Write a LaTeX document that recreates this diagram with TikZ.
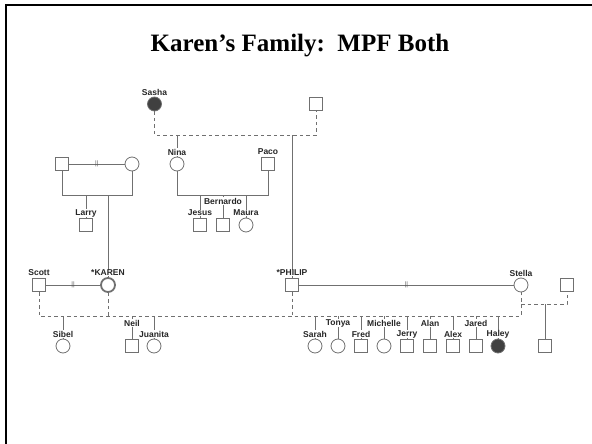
\documentclass[tikz,border=0pt]{standalone}
\usepackage{fontspec}
\usepackage{xcolor}
\setmainfont{Liberation Serif}
\newfontfamily\labelfont{Liberation Sans}
\definecolor{pedgray}{HTML}{707070}
\definecolor{pedfill}{HTML}{404040}
\tikzstyle{male} = [rectangle, minimum size=13.5pt, inner sep=0pt, draw=pedgray, line width=0.8pt, fill=white]
\tikzstyle{female} = [circle, minimum size=14pt, inner sep=0pt, draw=pedgray, line width=0.8pt, fill=white]
\tikzstyle{affected} = [fill=pedfill]
\tikzstyle{proband} = [line width=1.8pt]
\tikzstyle{tag} = [font=\labelfont\bfseries\fontsize{8.5}{9}\selectfont, text=black!85, inner sep=0.5pt, fill=white]
\tikzstyle{link} = [draw=pedgray, line width=0.8pt]
\tikzstyle{dashlink} = [link, dash pattern=on 3.5pt off 3pt]
\tikzstyle{divorce} = [font=\labelfont\fontsize{6.5}{6.5}\selectfont, text=black!65, inner sep=0pt]

\begin{document}
\begin{tikzpicture}[x=1pt, y=-1pt, node distance=12pt]
    \useasboundingbox (0,0) rectangle (592,444);
    \draw [line width=2.5pt] (6,444) -- (6,5) -- (592,5);
    \node (title) at (300,46) [font=\bfseries\fontsize{25}{30}\selectfont] {Karen’s Family:\ \ MPF Both};
    % generation 1
    \node (sasha) [female, affected] at (154.5,104) {};
    \node (topM) [male] at (316,104) {};
    \node (kdad) [male] at (62,164) {};
    \node (kmom) [female] at (132,164) {};
    \coordinate (mA) at (0,135);
    \coordinate (mB) at (0,195);
    \coordinate (mC) at (0,316);
    \coordinate (mD) at (0,304);
    % generation 2
    \node (nina) [female] at (177,164) {};
    \node (paco) [male] at (268,164) {};
    \node (larry) [male] at (86,225) {};
    \node (jesus) [male] at (200,225) {};
    \node (bernardo) [male] at (223,225) {};
    \node (maura) [female] at (246,225) {};
    % generation 3
    \node (scott) [male] at (39,285) {};
    \node (karen) [female, proband] at (108,285) {};
    \node (philip) [male] at (292,285) {};
    \node (stella) [female] at (521,285) {};
    \node (stellaM) [male] at (567,285) {};
    % generation 4
    \node (sibel) [female] at (63,346) {};
    \node (neil) [male] at (132,346) {};
    \node (juanita) [female] at (154,346) {};
    \node (sarah) [female] at (315,346) {};
    \node (tonya) [female] at (338,346) {};
    \node (fred) [male] at (361,346) {};
    \node (michelle) [female] at (384,346) {};
    \node (jerry) [male] at (407,346) {};
    \node (alan) [male] at (430,346) {};
    \node (alex) [male] at (453,346) {};
    \node (jared) [male] at (476,346) {};
    \node (haley) [female, affected] at (498,346) {};
    \node (stellaKid) [male] at (545,346) {};
    % sibships
    \draw [dashlink] (sasha.south) |- (topM |- mA) -- (topM.south);
    \draw [link] (nina.north) -- (nina |- mA);
    \draw [link] (philip.north) -- (philip |- mA);
    \draw [link] (kdad) -- node [divorce] {||} (kmom);
    \draw [link] (kdad.south) |- (kmom |- mB) -- (kmom.south);
    \draw [link] (larry.north) -- (larry |- mB);
    \draw [link] (karen.north) -- (karen |- mB);
    \draw [link] (nina.south) |- (paco |- mB) -- (paco.south);
    \draw [link] (jesus.north) -- (jesus |- mB);
    \draw [link] (bernardo.north) -- (bernardo |- mB);
    \draw [link] (maura.north) -- (maura |- mB);
    \draw [link] (scott) -- node [divorce] {||} (karen);
    \draw [link] (philip) -- node [divorce] {||} (stella);
    \draw [dashlink] (scott.south) |- (stella |- mC) -- (stella.south);
    \draw [dashlink] (karen.south) -- (karen |- mC);
    \draw [dashlink] (philip.south) -- (philip |- mC);
    \draw [dashlink] (stella |- mD) -| (stellaM.south);
    \draw [link] (stellaKid.north) -- (stellaKid |- mD);
    \draw [link] (sibel.north) -- (sibel |- mC);
    \draw [link] (neil.north) -- (neil |- mC);
    \draw [link] (juanita.north) -- (juanita |- mC);
    \draw [link] (sarah.north) -- (sarah |- mC);
    \draw [link] (tonya.north) -- (tonya |- mC);
    \draw [link] (fred.north) -- (fred |- mC);
    \draw [link] (michelle.north) -- (michelle |- mC);
    \draw [link] (jerry.north) -- (jerry |- mC);
    \draw [link] (alan.north) -- (alan |- mC);
    \draw [link] (alex.north) -- (alex |- mC);
    \draw [link] (jared.north) -- (jared |- mC);
    \draw [link] (haley.north) -- (haley |- mC);
    % names
    \node (sashaT) [tag, above of = sasha] {Sasha};
    \node (ninaT) [tag, above of = nina] {Nina};
    \node (pacoT) [tag, above of = paco] {Paco};
    \node (larryT) [tag, above of = larry] {Larry};
    \node (jesusT) [tag, above of = jesus] {Jesus};
    \node (bernardoT) [tag, above of = bernardo, yshift = 12pt] {Bernardo};
    \node (mauraT) [tag, above of = maura] {Maura};
    \node (scottT) [tag, above of = scott] {Scott};
    \node (karenT) [tag, above of = karen] {*KAREN};
    \node (philipT) [tag, above of = philip] {*PHILIP};
    \node (stellaT) [tag, above of = stella] {Stella};
    \node (sibelT) [tag, above of = sibel] {Sibel};
    \node (neilT) [tag, above of = neil, yshift = 11pt] {Neil};
    \node (juanitaT) [tag, above of = juanita] {Juanita};
    \node (sarahT) [tag, above of = sarah] {Sarah};
    \node (tonyaT) [tag, above of = tonya, yshift = 11pt] {Tonya};
    \node (fredT) [tag, above of = fred] {Fred};
    \node (michelleT) [tag, above of = michelle, yshift = 11pt] {Michelle};
    \node (jerryT) [tag, above of = jerry] {Jerry};
    \node (alanT) [tag, above of = alan, yshift = 11pt] {Alan};
    \node (alexT) [tag, above of = alex] {Alex};
    \node (jaredT) [tag, above of = jared, yshift = 11pt] {Jared};
    \node (haleyT) [tag, above of = haley] {Haley};
\end{tikzpicture}
\end{document}
